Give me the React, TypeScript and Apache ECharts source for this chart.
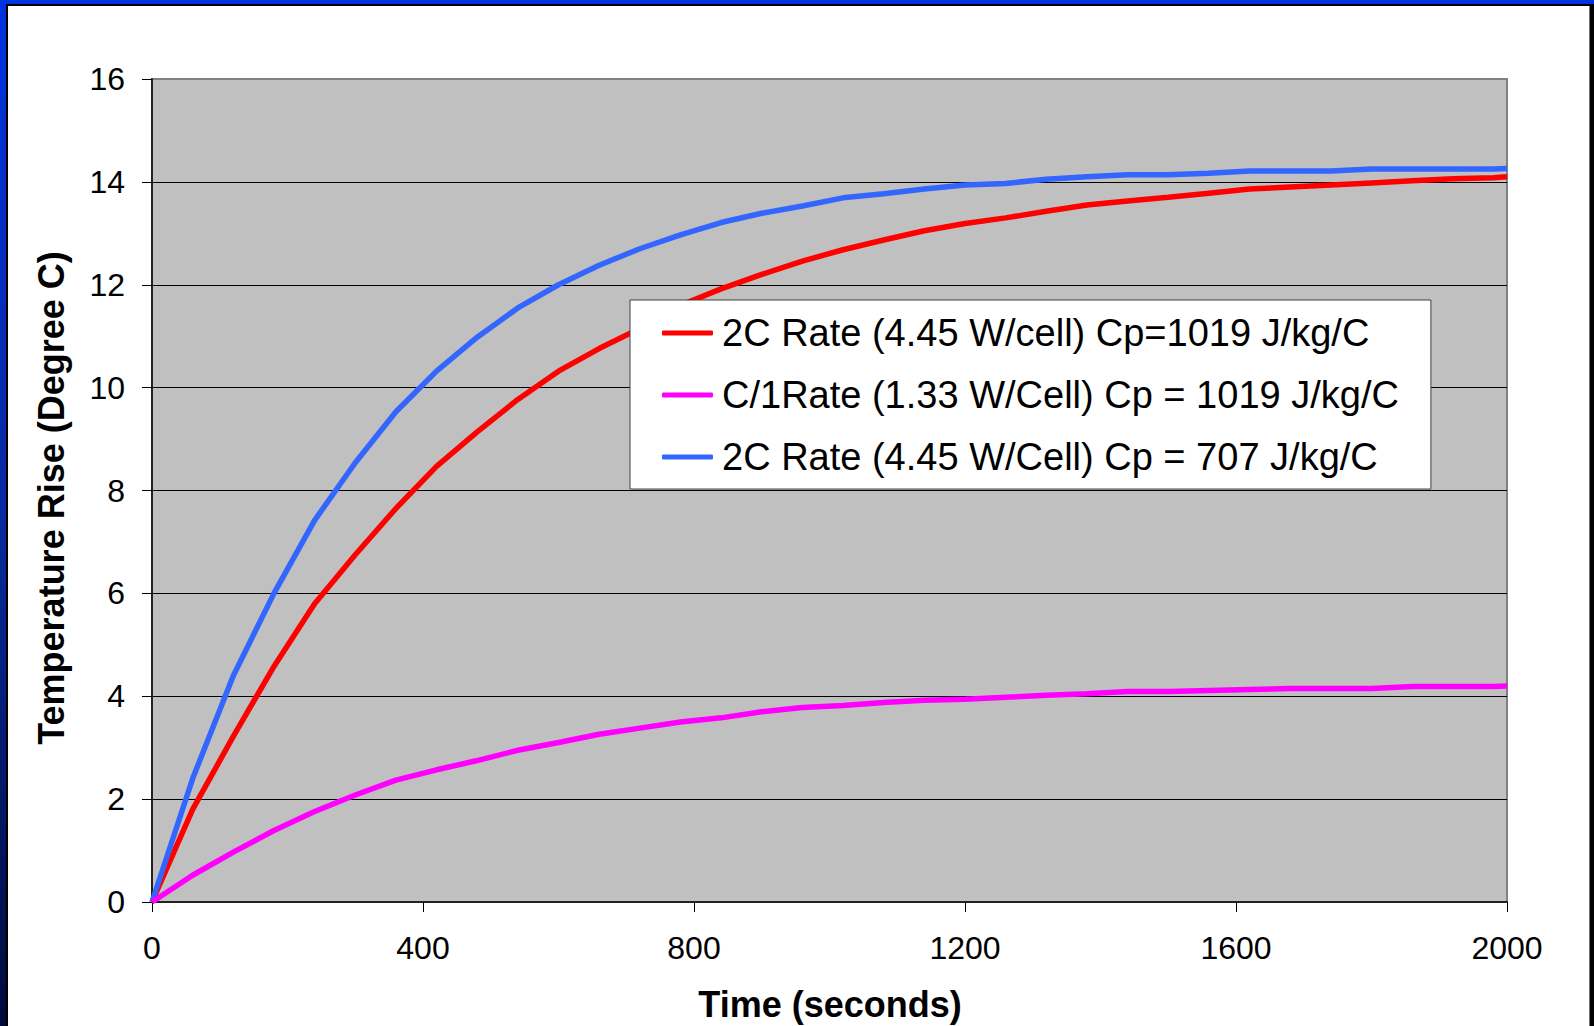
import React, { useEffect, useRef } from "react";
import * as echarts from "echarts";

const times = [0, 60, 120, 180, 240, 300, 360, 420, 480, 540, 600, 660, 720, 780, 840, 900, 960, 1020, 1080, 1140, 1200, 1260, 1320, 1380, 1440, 1500, 1560, 1620, 1680, 1740, 1800, 1860, 1920, 1980, 2000];

const red2C1019 = [0, 1.8, 3.22, 4.58, 5.8, 6.75, 7.65, 8.47, 9.14, 9.77, 10.32, 10.76, 11.15, 11.6, 11.92, 12.2, 12.46, 12.68, 12.87, 13.05, 13.19, 13.3, 13.43, 13.55, 13.63, 13.7, 13.78, 13.86, 13.9, 13.94, 13.98, 14.02, 14.06, 14.08, 14.1];

const magentaC1 = [0, 0.52, 0.97, 1.39, 1.76, 2.08, 2.37, 2.57, 2.75, 2.95, 3.1, 3.26, 3.38, 3.5, 3.58, 3.7, 3.78, 3.82, 3.88, 3.92, 3.94, 3.98, 4.02, 4.05, 4.09, 4.09, 4.11, 4.13, 4.15, 4.15, 4.15, 4.19, 4.19, 4.19, 4.2];

const blue2C707 = [0, 2.4, 4.4, 6.0, 7.42, 8.54, 9.53, 10.32, 10.98, 11.55, 12.0, 12.38, 12.7, 12.97, 13.21, 13.39, 13.53, 13.69, 13.77, 13.86, 13.94, 13.97, 14.05, 14.1, 14.14, 14.14, 14.17, 14.21, 14.21, 14.21, 14.25, 14.25, 14.25, 14.25, 14.26];

const seriesNames = [
  "2C Rate (4.45 W/cell) Cp=1019 J/kg/C",
  "C/1Rate (1.33 W/Cell) Cp = 1019 J/kg/C",
  "2C Rate (4.45 W/Cell) Cp = 707 J/kg/C",
];
const seriesColors = ["#ff0000", "#ff00ff", "#3366ff"];
const seriesValues = [red2C1019, magentaC1, blue2C707];

const xTitle = "Time (seconds)";
const yTitle = "Temperature Rise (Degree C)";

const FONT = "'Liberation Sans', Arial, sans-serif";

export default function App() {
  const ref = useRef<HTMLDivElement>(null);

  useEffect(() => {
    if (!ref.current) return;
    const chart = echarts.init(ref.current, undefined, { renderer: "svg" });
    const splitColors = ["#000", "#000", "#000", "#000", "#000", "#000", "#000", "#000", "#808080"];
    chart.setOption({
      animation: false,
      textStyle: { fontFamily: FONT },
      grid: {
        left: 152,
        top: 79,
        right: 87,
        bottom: 124,
        show: true,
        backgroundColor: "#c0c0c0",
        borderColor: "#808080",
        borderWidth: 2,
      },
      xAxis: {
        type: "value",
        min: 0,
        max: 2000,
        interval: 400,
        axisLine: { show: true, lineStyle: { color: "#222", width: 2 } },
        axisTick: { show: true, length: 10, lineStyle: { color: "#000", width: 1 } },
        axisLabel: {
          fontSize: 32,
          color: "#000",
          margin: 30,
          fontFamily: FONT,
          formatter: (v: number) => String(v),
        },
        splitLine: { show: false },
      },
      yAxis: {
        type: "value",
        min: 0,
        max: 16,
        interval: 2,
        axisLine: { show: true, lineStyle: { color: "#222", width: 2 } },
        axisTick: { show: true, length: 10, lineStyle: { color: "#000", width: 1 } },
        axisLabel: {
          fontSize: 32,
          color: "#000",
          margin: 27,
          fontFamily: FONT,
          formatter: (v: number) => String(v),
        },
        splitLine: { show: true, lineStyle: { color: splitColors, width: 1 } },
      },
      legend: {
        orient: "vertical",
        left: 630,
        top: 300,
        backgroundColor: "#ffffff",
        borderColor: "#404040",
        borderWidth: 1,
        borderRadius: 0,
        padding: [14, 32, 13, 32],
        itemGap: 24,
        itemWidth: 51,
        itemHeight: 5,
        icon: "roundRect",
        textStyle: { fontSize: 38, color: "#000", fontFamily: FONT, padding: [0, 0, 0, 4] },
        data: seriesNames,
      },
      graphic: [
        {
          type: "text",
          x: 830,
          y: 1004,
          style: {
            text: xTitle,
            fontSize: 36,
            fontWeight: "bold",
            fontFamily: FONT,
            fill: "#000",
            textAlign: "center",
            textVerticalAlign: "middle",
          },
        },
        {
          type: "text",
          x: 51,
          y: 498,
          rotation: Math.PI / 2,
          style: {
            text: yTitle,
            fontSize: 36,
            fontWeight: "bold",
            fontFamily: FONT,
            fill: "#000",
            textAlign: "center",
            textVerticalAlign: "middle",
          },
        },
      ],
      series: seriesNames.map((name, i) => ({
        name,
        type: "line",
        showSymbol: false,
        symbol: "none",
        clip: false,
        color: seriesColors[i],
        lineStyle: { color: seriesColors[i], width: 5.5 },
        data: times.map((t, j) => [t, seriesValues[i][j]]),
        z: i === 1 ? 4 : 3,
      })),
    });
    return () => chart.dispose();
  }, []);

  return (
    <div
      style={{
        position: "absolute",
        left: 0,
        top: 0,
        width: 1594,
        height: 1026,
        overflow: "hidden",
        background: "linear-gradient(#0033e0 0%, #0a2aa0 50%, #000a3a 100%)",
      }}
    >
      <div style={{ position: "absolute", left: 6, top: 4, right: 0, bottom: 0, background: "#000" }} />
      <div style={{ position: "absolute", left: 8, top: 6, width: 1582, bottom: 0, background: "#777" }} />
      <div style={{ position: "absolute", left: 8, top: 6, width: 1581, bottom: 0, background: "#fff" }} />
      <div ref={ref} style={{ position: "absolute", left: 0, top: 0, width: 1594, height: 1026 }} />
    </div>
  );
}
